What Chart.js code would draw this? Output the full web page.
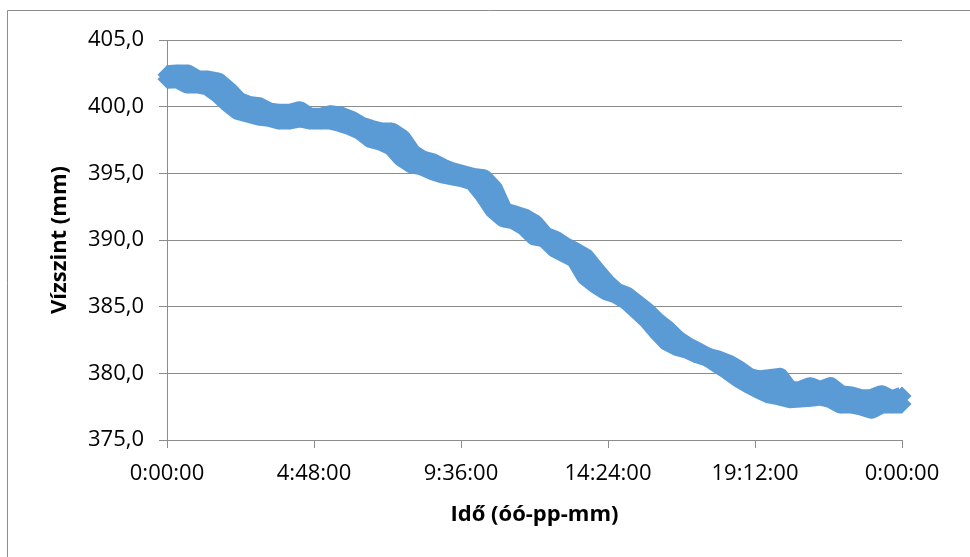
<!DOCTYPE html>
<html>
<head>
<meta charset="utf-8">
<script src="https://cdn.jsdelivr.net/npm/chart.js@4/dist/chart.umd.min.js"></script>
<style>
  html, body { margin: 0; padding: 0; background: #fff; }
  #wrap { position: relative; width: 970px; height: 557px; }
</style>
</head>
<body>
<div id="wrap"><canvas id="levelCanvas" width="970" height="557"></canvas></div>
<script>
// sample times, minutes from 0:00:00
var sampleMinutes = [0, 20, 40, 60, 80, 100, 120, 140, 160, 180,
    200, 220, 240, 260, 280, 300, 320, 340, 360, 380,
    400, 420, 440, 460, 480, 500, 520, 540, 560, 580,
    600, 620, 640, 660, 680, 700, 720, 740, 760, 780,
    800, 820, 840, 860, 880, 900, 920, 940, 960, 980,
    1000, 1020, 1040, 1060, 1080, 1100, 1120, 1140, 1160, 1180,
    1200, 1220, 1240, 1260, 1280, 1300, 1320, 1340, 1360, 1380,
    1400, 1420, 1440];

// upper and lower edge of the reading spread (mm)
var levelUpper = [402.4, 402.45, 402.45, 402.0, 402.0, 401.85, 401.2, 400.4, 400.1, 400.0,
    399.6, 399.5, 399.5, 399.7, 399.2, 399.2, 399.4, 399.3, 399.0, 398.55,
    398.3, 398.1, 398.1, 397.6, 396.5, 396.0, 395.8, 395.4, 395.1, 394.9,
    394.7, 394.6, 393.8, 392.1, 391.9, 391.65, 391.2, 390.3, 390.0, 389.5,
    389.1, 388.65, 387.7, 386.8, 386.1, 385.8, 385.2, 384.6, 383.85, 383.25,
    382.5, 382.0, 381.6, 381.2, 381.0, 380.7, 380.25, 379.7, 379.5, 379.6,
    379.7, 378.7, 378.7, 379.0, 378.7, 379.0, 378.4, 378.3, 378.1, 378.1,
    378.4, 378.0, 378.3];

var levelLower = [402.05, 402.1, 401.7, 401.7, 401.55, 401.0, 400.3, 399.7, 399.5, 399.3,
    399.2, 399.0, 399.0, 399.15, 399.0, 399.0, 399.0, 398.8, 398.55, 398.2,
    397.6, 397.4, 397.05, 396.2, 395.7, 395.55, 395.2, 394.95, 394.8, 394.65,
    394.4, 393.45, 392.3, 391.65, 391.5, 391.05, 390.3, 390.15, 389.4, 389.0,
    388.6, 387.3, 386.7, 386.2, 385.95, 385.5, 384.8, 384.1, 383.2, 382.4,
    382.0, 381.8, 381.45, 381.2, 380.7, 380.2, 379.65, 379.2, 378.8, 378.45,
    378.3, 378.1, 378.15, 378.2, 378.3, 378.1, 377.7, 377.7, 377.55, 377.3,
    377.7, 377.7, 377.7];

var xTickLabels = ['0:00:00', '4:48:00', '9:36:00', '14:24:00', '19:12:00', '0:00:00'];
var yTickLabels = ['375,0', '380,0', '385,0', '390,0', '395,0', '400,0', '405,0'];

var blue = '#5b9bd5';
var gray = '#8c8c8c';

function toPoints(values) {
    var pts = [];
    for (var i = 0; i < values.length; i++) {
        pts.push({x: sampleMinutes[i], y: values[i]});
    }
    return pts;
}

// outer chart frame (only left and top edge are visible in the crop)
var framePlugin = {
    id: 'frame',
    beforeDraw: function (chart) {
        var ctx = chart.ctx;
        ctx.save();
        ctx.strokeStyle = gray;
        ctx.lineWidth = 1;
        ctx.beginPath();
        ctx.moveTo(7.5, 557);
        ctx.lineTo(7.5, 10.5);
        ctx.lineTo(970, 10.5);
        ctx.stroke();
        ctx.restore();
    }
};

Chart.defaults.font.family = "'Open Sans', sans-serif";
Chart.defaults.color = '#000';

var bandStyle = {
    showLine: true,
    borderColor: blue,
    backgroundColor: blue,
    pointBackgroundColor: blue,
    borderWidth: 19,
    borderJoinStyle: 'round',
    pointStyle: 'rectRot',
    pointRadius: 9.5,
    pointBorderWidth: 0,
    tension: 0,
    clip: false
};

var ctx = document.getElementById('levelCanvas');
new Chart(ctx, {
    type: 'scatter',
    data: {
        datasets: [
            Object.assign({label: 'felső', data: toPoints(levelUpper), fill: '+1'}, bandStyle),
            Object.assign({label: 'alsó', data: toPoints(levelLower), fill: false}, bandStyle)
        ]
    },
    options: {
        responsive: false,
        animation: false,
        layout: {padding: {left: 0, top: 40, right: 68, bottom: 0}},
        plugins: {legend: {display: false}, tooltip: {enabled: false}},
        scales: {
            x: {
                type: 'linear',
                min: 0,
                max: 1440,
                afterFit: function (scale) { scale.height = 117; },
                ticks: {
                    stepSize: 288,
                    padding: 13,
                    font: {size: 22},
                    maxRotation: 0,
                    callback: function (value) { return xTickLabels[Math.round(value / 288)]; }
                },
                grid: {drawOnChartArea: false, drawTicks: true, tickLength: 8, color: gray},
                border: {display: true, color: gray},
                title: {
                    display: true,
                    text: 'Idő (óó-pp-mm)',
                    font: {size: 22, weight: 'bold'},
                    padding: {top: 0, bottom: 29}
                }
            },
            y: {
                min: 375,
                max: 405,
                afterFit: function (scale) { scale.width = 167; },
                ticks: {
                    stepSize: 5,
                    padding: 15,
                    font: {size: 22},
                    callback: function (value) { return yTickLabels[Math.round((value - 375) / 5)]; }
                },
                grid: {color: gray, tickLength: 8},
                border: {display: true, color: gray},
                title: {
                    display: true,
                    text: 'Vízszint (mm)',
                    font: {size: 22, weight: 'bold'},
                    padding: {top: 47, bottom: 0}
                }
            }
        }
    },
    plugins: [framePlugin]
});
</script>
</body>
</html>
